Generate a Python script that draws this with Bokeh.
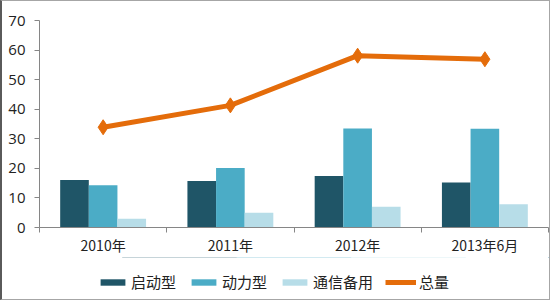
from bokeh.plotting import figure
from bokeh.layouts import column
from bokeh.models import FixedTicker, Legend, LegendItem, Range1d
from bokeh.embed import file_html
from bokeh.resources import INLINE

categories = ["2010年", "2011年", "2012年", "2013年6月"]
qidong = [16.1, 15.7, 17.4, 15.2]
dongli = [14.3, 20.1, 33.5, 33.4]
tongxin = [3.0, 5.0, 7.0, 7.9]
zongliang = [33.9, 41.3, 58.1, 56.9]
yticks = [0, 10, 20, 30, 40, 50, 60, 70]
series_names = ["启动型", "动力型", "通信备用", "总量"]

colors = ["#1F5567", "#4BACC6", "#B7DDE8", "#E46C0A"]
bw = 0.225
centers = [i + 0.5 for i in range(len(categories))]


def draw(fig):
    r1 = fig.vbar(x=[c - bw for c in centers], top=qidong, width=bw, color=colors[0], line_color=None)
    r2 = fig.vbar(x=centers, top=dongli, width=bw, color=colors[1], line_color=None)
    r3 = fig.vbar(x=[c + bw for c in centers], top=tongxin, width=bw, color=colors[2], line_color=None)
    r4 = fig.line(x=centers, y=zongliang, line_color=colors[3], line_width=5)
    r5 = fig.scatter(x=centers, y=zongliang, marker="diamond", size=15, color=colors[3])
    return r1, r2, r3, r4, r5


p = figure(width=547, height=256, x_range=Range1d(0, len(categories)),
           y_range=Range1d(0, 70), output_backend="svg", toolbar_location=None,
           min_border_left=37, min_border_right=1, min_border_top=19,
           min_border_bottom=27, background_fill_color="white",
           border_fill_color="white")
p.outline_line_color = None
p.xgrid.visible = False
p.ygrid.visible = False
draw(p)

ax = p.xaxis[0]
ax.ticker = FixedTicker(ticks=centers, minor_ticks=list(range(len(categories) + 1)))
ax.major_label_overrides = {c: lab for c, lab in zip(centers, categories)}
ax.major_tick_line_color = None
ax.major_tick_out = 0
ax.major_tick_in = 0
ax.minor_tick_line_color = "#868686"
ax.minor_tick_out = 5
ax.minor_tick_in = 0
ax.axis_line_color = "#868686"
ax.major_label_text_font = "Noto Sans CJK SC"
ax.major_label_text_font_size = "14px"
ax.major_label_text_color = "#222222"
ax.major_label_standoff = 2

ay = p.yaxis[0]
ay.ticker = FixedTicker(ticks=yticks)
ay.minor_tick_line_color = None
ay.major_tick_out = 5
ay.major_tick_in = 0
ay.major_tick_line_color = "#868686"
ay.axis_line_color = "#868686"
ay.major_label_text_font = "Open Sans"
ay.major_label_text_font_size = "15px"
ay.major_label_text_color = "#222222"
ay.major_label_standoff = 9

# legend strip: same series drawn outside its visible ranges, only the legend shows
lg = figure(width=547, height=42, x_range=Range1d(0, 1), y_range=Range1d(-1000, -999),
            output_backend="svg", toolbar_location=None, min_border=0,
            background_fill_color="white", border_fill_color="white")
lg.outline_line_color = None
lg.axis.visible = False
lg.grid.visible = False
l1, l2, l3, l4, l5 = draw(lg)

legend = Legend(items=[
    LegendItem(label=series_names[0], renderers=[l1]),
    LegendItem(label=series_names[1], renderers=[l2]),
    LegendItem(label=series_names[2], renderers=[l3]),
    LegendItem(label=series_names[3], renderers=[l4, l5]),
], orientation="horizontal", location=(58, 7))
legend.label_text_font = "Noto Sans CJK SC"
legend.label_text_font_size = "15px"
legend.label_text_color = "#222222"
legend.glyph_width = 31
legend.glyph_height = 8
legend.spacing = 12
legend.label_standoff = 3
legend.border_line_color = None
legend.background_fill_alpha = 0
legend.margin = 0
legend.padding = 0
lg.add_layout(legend)

layout = column(p, lg, spacing=0,
                styles={"border-top": "1px solid #a6a6a6", "border-right": "1px solid #a6a6a6",
                        "border-bottom": "1px solid #a6a6a6", "border-left": "2px solid #5a5a5a",
                        "box-sizing": "border-box", "background-color": "white"})

open("out.html", "w").write(file_html(layout, INLINE))
